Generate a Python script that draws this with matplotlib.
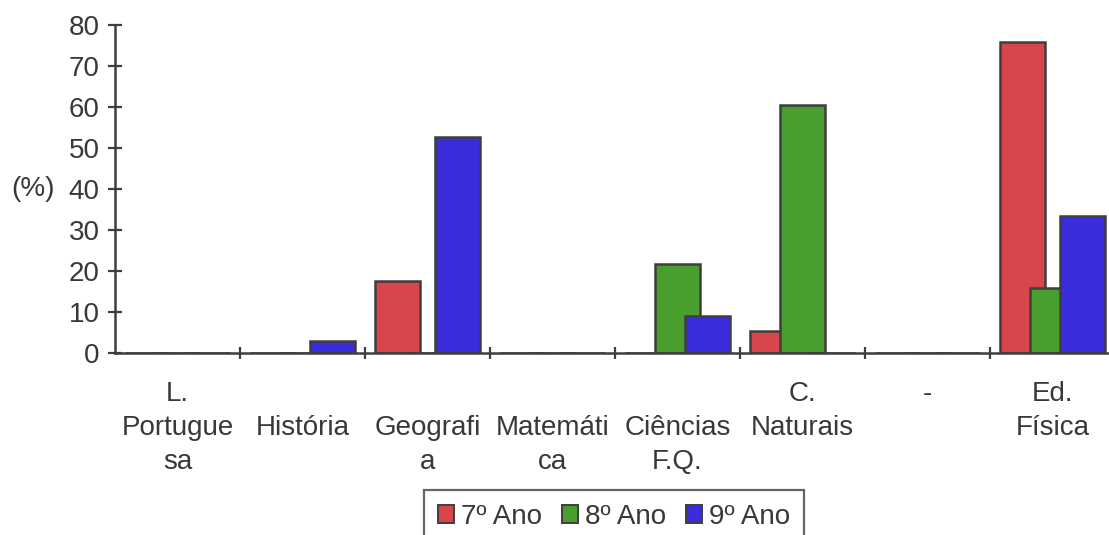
import numpy as np
import matplotlib
matplotlib.use("Agg")
import matplotlib.pyplot as plt
from matplotlib.patches import Patch

plt.rcParams['font.family'] = ['Liberation Sans', 'DejaVu Sans']

# data
categories = ["L.\nPortugue\nsa", "\nHistória\n", "\nGeografi\na", "\nMatemáti\nca",
              "\nCiências\nF.Q.", "C.\nNaturais\n", "-\n\n", "Ed.\nFísica\n"]
series_names = ["7º Ano", "8º Ano", "9º Ano"]
ano7 = [0, 0, 17.6, 0, 0, 5.4, 0, 75.8]
ano8 = [0, 0, 0, 0, 21.8, 60.6, 0, 15.9]
ano9 = [0, 2.9, 52.8, 0, 9.0, 0, 0, 33.3]
colors = ["#d8464c", "#4a9e2e", "#3a2ddb"]

edge = "#3e3e3e"
txt = "#383838"
fs = 20

fig = plt.figure(figsize=(11.09, 5.35), dpi=100)
ax = fig.add_axes([115 / 1109, 1 - 353 / 535, 1000 / 1109, 328 / 535])

x = np.arange(len(categories))
width = 0.36
step = 0.24
for k, (vals, c) in enumerate(zip([ano7, ano8, ano9], colors)):
    ax.bar(x + (k - 1) * step, vals, width, color=c, edgecolor=edge,
           linewidth=1.8, zorder=2 + k)

ax.set_xlim(-0.5, len(categories) - 0.5)
ax.set_ylim(0, 80)
ax.set_yticks(range(0, 81, 10))

ax.spines['top'].set_visible(False)
ax.spines['right'].set_visible(False)
for s in ['left', 'bottom']:
    ax.spines[s].set_color(edge)
    ax.spines[s].set_linewidth(1.8)
    ax.spines[s].set_zorder(10)

ax.tick_params(axis='y', direction='inout', length=10, width=1.6, color=edge,
               labelsize=fs, labelcolor=txt, pad=6)

# category labels at centres, boundary ticks as minor
ax.set_xticks(x)
ax.set_xticklabels(categories, fontsize=fs, color=txt, va='top',
                   multialignment='center', linespacing=1.4)
ax.tick_params(axis='x', which='major', length=0, pad=20)
ax.set_xticks(np.arange(0.5, len(categories) - 0.5, 1), minor=True)
ax.tick_params(axis='x', which='minor', direction='inout', length=9, width=1.6, color=edge)

ax.set_ylabel('(%)', rotation=0, fontsize=fs, color=txt, va='center', ha='center')
ax.yaxis.set_label_coords(-0.082, 0.5)

handles = [Patch(facecolor=c, edgecolor=edge, linewidth=1.4) for c in colors]
leg = fig.legend(handles, series_names, loc='upper center',
                 bbox_to_anchor=(614 / 1109, 1 - 490 / 535), ncol=3,
                 fontsize=fs, frameon=True, fancybox=False, borderpad=0.5,
                 handlelength=0.6, handleheight=0.6, handletextpad=0.25,
                 columnspacing=0.7, borderaxespad=0)
leg.get_frame().set_edgecolor(edge)
leg.get_frame().set_linewidth(1.6)
for t in leg.get_texts():
    t.set_color(txt)

fig.savefig("out.png", dpi=100)
